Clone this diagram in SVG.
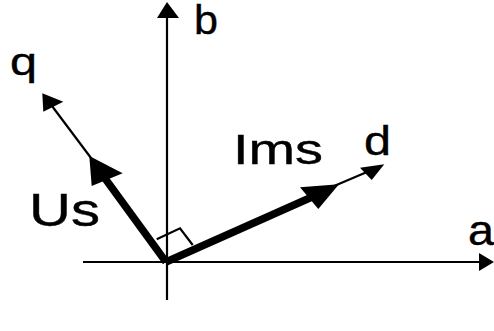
<svg xmlns="http://www.w3.org/2000/svg" width="494" height="331" viewBox="0 0 494 331">
<style>
.t{font-family:"Liberation Sans",Arial,sans-serif;fill:#000;stroke:#000;stroke-width:0.4}
.ax{stroke:#000;stroke-width:2.2;fill:none}
.thin{stroke:#000;stroke-width:2.2;fill:none}
.thick{stroke:#000;stroke-width:7.5;fill:none}
.hd{fill:#000;stroke:none}
</style>
<rect width="494" height="331" fill="#fff"/>
<g id="connectors">
<line class="ax" x1="83" y1="262" x2="482" y2="262"/>
<polygon class="hd" points="494,262 479,253 479,271"/>
<line class="ax" x1="167" y1="300" x2="167" y2="15"/>
<polygon class="hd" points="167,2 157,18 179,18"/>
<line class="thin" x1="100" y1="170" x2="52" y2="106"/>
<polygon class="hd" points="42.3,93.3 43.3,111.7 63.3,101.7"/>
<line class="thick" x1="166" y1="262" x2="104" y2="177"/>
<polygon class="hd" points="89.3,156 91.7,186 122.7,173.3"/>
<line class="thin" x1="320" y1="192" x2="367" y2="172"/>
<polygon class="hd" points="384.3,164.3 360,167.7 371.7,180"/>
<line class="thick" x1="166" y1="262" x2="312" y2="197"/>
<polygon class="hd" points="339,184.3 300,187.3 318.3,209"/>
<polyline class="thin" points="156.7,239.3 180,228.3 192.7,245"/>
</g>
<g id="label-b"><text class="t" x="194" y="34" font-size="41" textLength="24" lengthAdjust="spacingAndGlyphs">b</text></g>
<g id="label-a"><text class="t" x="468" y="245" font-size="42" textLength="26" lengthAdjust="spacingAndGlyphs">a</text></g>
<g id="label-q"><text class="t" x="10" y="75" font-size="38" textLength="27" lengthAdjust="spacingAndGlyphs">q</text></g>
<g id="label-d"><text class="t" x="364" y="155" font-size="40" textLength="27" lengthAdjust="spacingAndGlyphs">d</text></g>
<g id="label-Ims"><text class="t" x="233" y="164" font-size="42" textLength="90" lengthAdjust="spacingAndGlyphs">Ims</text></g>
<g id="label-Us"><text class="t" x="29" y="226" font-size="47" textLength="71" lengthAdjust="spacingAndGlyphs">Us</text></g>
</svg>
